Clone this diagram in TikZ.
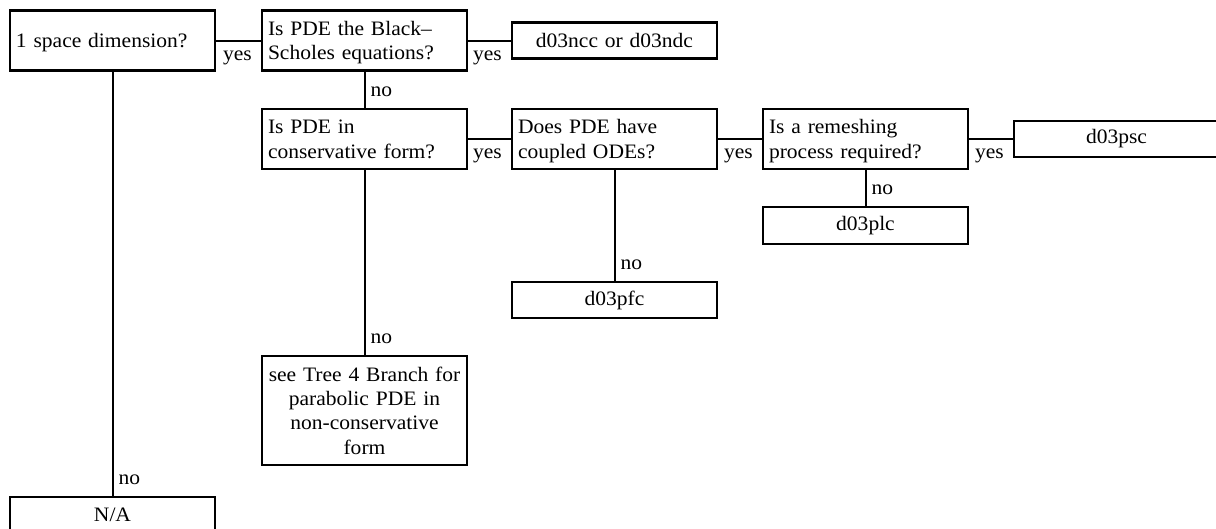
\documentclass[tikz,border=0pt]{standalone}
\usepackage{fontspec}
\setmainfont{Liberation Serif}[FakeStretch=1.05, WordSpace=1.4]
\begin{document}
\begin{tikzpicture}[x=1pt,y=-1pt,
  box/.style={draw=black, line width=2.1pt, minimum width=205pt, inner xsep=6pt, inner ysep=0pt,
    text width=193pt, font=\fontsize{20.5}{24.5}\selectfont},
  qbox/.style={box, align=left, minimum height=60pt,
    execute at begin node={\rule{0pt}{21pt}},
    execute at end node={\rule[-7.5pt]{0pt}{7.5pt}}},
  abox/.style={box, align=center, minimum height=36pt},
  link/.style={line width=2pt},
  lbl/.style={inner sep=0pt, font=\fontsize{20.5}{24}\selectfont}]
\useasboundingbox (0,0) rectangle (1216,528);
\clip (0,0) rectangle (1216,528);
% question boxes
\node[qbox] (A) at (112.5,40.5) {1 space dimension?};
\node[qbox] (B) at (364.5,40.5) {Is PDE the Black–\\Scholes equations?};
\node[abox] (C) at (614.5,40.5) {d03ncc or d03ndc};
\node[qbox] (D) at (364.5,139) {Is PDE in\\conservative form?};
\node[qbox] (E) at (614.5,139) {Does PDE have\\coupled ODEs?};
\node[qbox] (F) at (865.5,139) {Is a remeshing\\process required?};
\node[abox] (G) at (1116.5,139) {d03psc};
\node[abox, minimum height=37pt] (H) at (865.5,225.5) {d03plc};
\node[abox] (I) at (614.5,300) {d03pfc};
\node[box, align=center, minimum height=109pt, inner xsep=1pt, text width=203pt, font=\fontsize{20.5}{24.3}\selectfont] (J) at (364.5,410.5)
  {see Tree 4 Branch for\\parabolic PDE in\\non-conservative\\form};
\node[abox] (K) at (112.5,515) {N/A};
% connectors
\draw[link] (A.east) -- (B.west);
\draw[link] (B.east) -- (C.west);
\draw[link] (D.east) -- (E.west);
\draw[link] (E.east) -- (F.west);
\draw[link] (F.east) -- (G.west);
\draw[link] (A.south) -- (K.north);
\draw[link] (B.south) -- (D.north);
\draw[link] (D.south) -- (J.north);
\draw[link] (E.south) -- (I.north);
\draw[link] (F.south) -- (H.north);
% yes labels
\node[lbl, anchor=base east] (yAB) at ([xshift=-9pt,yshift=-19.5pt]B.west) {yes};
\node[lbl, anchor=base east] (yBC) at ([xshift=-9pt,yshift=-19.5pt]C.west) {yes};
\node[lbl, anchor=base east] (yDE) at ([xshift=-9pt,yshift=-19.5pt]E.west) {yes};
\node[lbl, anchor=base east] (yEF) at ([xshift=-9pt,yshift=-19.5pt]F.west) {yes};
\node[lbl, anchor=base east] (yFG) at ([xshift=-9pt,yshift=-19.5pt]G.west) {yes};
% no labels
\node[lbl, anchor=base west] (nAK) at ([xshift=6pt,yshift=11.5pt]K.north) {no};
\node[lbl, anchor=base west] (nBD) at ([xshift=6pt,yshift=11.5pt]D.north) {no};
\node[lbl, anchor=base west] (nDJ) at ([xshift=6pt,yshift=11.5pt]J.north) {no};
\node[lbl, anchor=base west] (nEI) at ([xshift=6pt,yshift=11.5pt]I.north) {no};
\node[lbl, anchor=base west] (nFH) at ([xshift=6pt,yshift=11.5pt]H.north) {no};
\end{tikzpicture}
\end{document}
